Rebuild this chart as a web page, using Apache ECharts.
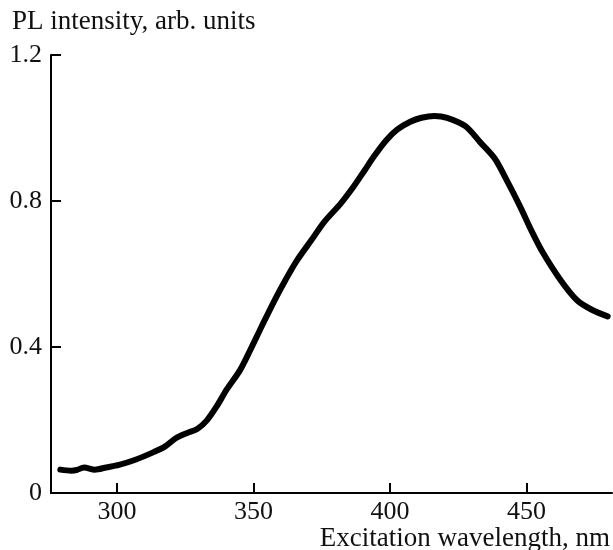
<!DOCTYPE html>
<html>
<head>
<meta charset="utf-8">
<script src="https://cdn.jsdelivr.net/npm/echarts@6/dist/echarts.min.js"></script>
<style>
html,body{margin:0;padding:0;background:#fff;}
#chart{width:613px;height:550px;}
</style>
</head>
<body>
<div id="chart"></div>
<script>
var wavelength = [279.2,283.2,285.2,287.9,291.9,296,300.7,306.7,313.4,317.5,321.5,325.5,329.5,332.9,336.3,340.3,345,349,353,357.7,361.8,365.8,371.2,375.9,381.9,386.6,390.6,394,398.7,402.7,407.4,411.5,416.2,420.9,427.6,432.9,438.3,443,447.7,451.7,455.8,462.5,468.5,473.9,479.7];
var intensity = [0.064,0.061,0.063,0.070,0.064,0.070,0.077,0.091,0.112,0.127,0.150,0.164,0.176,0.199,0.235,0.285,0.336,0.395,0.457,0.528,0.585,0.636,0.693,0.743,0.793,0.839,0.883,0.921,0.967,0.996,1.017,1.028,1.033,1.028,1.005,0.962,0.917,0.853,0.784,0.720,0.661,0.583,0.528,0.502,0.484];
var xTicks = [300,350,400,450];
var yTicks = [0,0.4,0.8,1.2];
var xTitle = 'Excitation wavelength, nm';
var yTitle = 'PL intensity, arb. units';

var data = wavelength.map(function(w,i){return [w,intensity[i]];});
var font = 'Liberation Serif';
var chart = echarts.init(document.getElementById('chart'));
chart.setOption({
  animation:false,
  grid:{left:51,right:1,top:55,bottom:57,containLabel:false},
  xAxis:{
    type:'value',min:275.8,max:481.3,
    axisLine:{show:true,lineStyle:{color:'#000',width:2}},
    axisTick:{show:true,inside:true,length:10,lineStyle:{color:'#000',width:2},customValues:xTicks},
    axisLabel:{show:true,customValues:xTicks,color:'#111',fontFamily:font,fontSize:26,margin:6},
    splitLine:{show:false}
  },
  yAxis:{
    type:'value',min:0,max:1.2,interval:0.4,
    axisLine:{show:true,lineStyle:{color:'#000',width:2}},
    axisTick:{show:true,inside:true,length:10,lineStyle:{color:'#000',width:2},customValues:yTicks.slice(1)},
    axisLabel:{show:true,customValues:yTicks,color:'#111',fontFamily:font,fontSize:26,margin:9,
      formatter:function(v){return v===0?'0':v.toFixed(1);}},
    splitLine:{show:false}
  },
  graphic:[
    {type:'text',left:12,top:8,style:{text:yTitle,fill:'#111',font:'27px "Liberation Serif"'}},
    {type:'text',right:3,top:525,style:{text:xTitle,fill:'#111',font:'27px "Liberation Serif"'}}
  ],
  series:[{
    type:'line',data:data,showSymbol:false,smooth:0.3,
    lineStyle:{color:'#000',width:6,cap:'round',join:'round'}
  }]
});
</script>
</body>
</html>
